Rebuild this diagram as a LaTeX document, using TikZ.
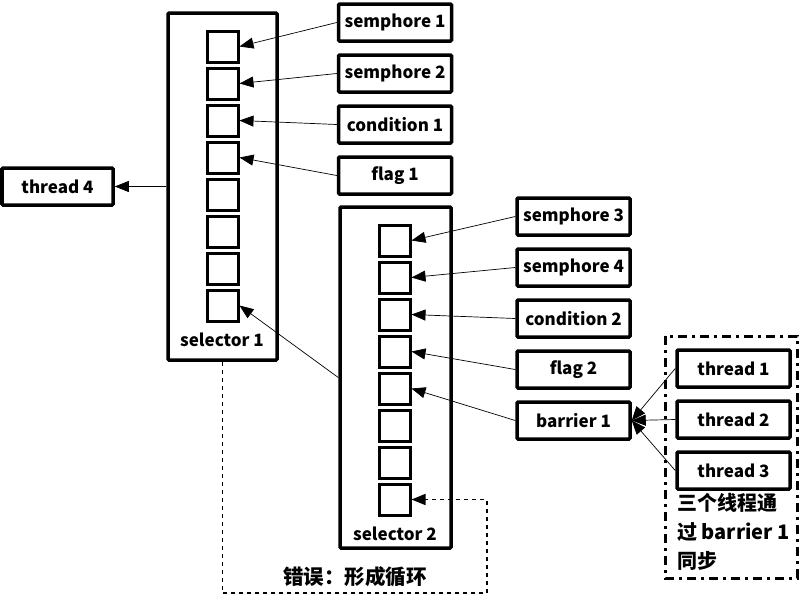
\documentclass[tikz,border=0pt]{standalone}
\usepackage{fontspec}
\setmainfont{Noto Sans CJK SC}
\usetikzlibrary{positioning,arrows.meta}

\begin{document}
\begin{tikzpicture}[x=1pt,y=-1pt,font=\bfseries\fontsize{17}{20}\selectfont,
    box/.style={draw,line width=3.5pt,rounded corners=1pt,minimum width=113pt,minimum height=37pt,inner sep=0pt},
    slot/.style={draw,line width=3pt,minimum size=31pt,inner sep=0pt},
    selbox/.style={draw,line width=3.5pt,rounded corners=1pt,inner sep=0pt},
    link/.style={line width=0.7pt,-{Triangle[length=14pt,width=11pt]}},
    cycle/.style={line width=1.5pt,dash pattern=on 4pt off 4pt,-{Triangle[length=14pt,width=11pt]}}]
    \useasboundingbox (0,0) rectangle (800,600);
    % selector 1
    \node[selbox,minimum width=109pt,minimum height=347pt] (sel1) at (222.5,186.5) {};
    \node (lab1) at (222,340) {selector 1};
    \foreach \i in {1,...,8}
        \node[slot] (s1-\i) at (222.5,{46.5+37*(\i-1)}) {};
    \foreach \n/\t [count=\i] in {sem1/semphore 1,sem2/semphore 2,cond1/condition 1,flag1/flag 1}{
        \node[box] (\n) at (395,{22.5+51*(\i-1)}) {\t};
        \draw[link] (\n.west) -- (s1-\i.east);
    }
    \node[box,minimum width=111pt] (t4) at (57.5,186.5) {thread 4};
    \draw[link] (sel1.west) -- (t4.east);
    % selector 2
    \node[selbox,minimum width=111pt,minimum height=341pt] (sel2) at (395.5,377.5) {};
    \node (lab2) at (395,534) {selector 2};
    \foreach \i in {1,...,8}
        \node[slot] (s2-\i) at (394.5,{240.5+37*(\i-1)}) {};
    \foreach \n/\t [count=\i] in {sem3/semphore 3,sem4/semphore 4,cond2/condition 2,flag2/flag 2,bar1/barrier 1}{
        \node[box] (\n) at (573.5,{216.5+51*(\i-1)}) {\t};
        \draw[link] (\n.west) -- (s2-\i.east);
    }
    \draw[link] (sel2.west) -- (s1-8.east);
    % loop
    \coordinate (lp) at (487,593);
    \draw[cycle] (sel1.south) |- (lp) |- (s2-8.east);
    \node[font=\bfseries\fontsize{20.5}{24}\selectfont] (err) at (355,577) {错误：形成循环};
    % threads
    \draw[line width=3pt,dash pattern=on 9pt off 5pt on 3pt off 5pt] (665,336) rectangle (797,578);
    \foreach \i in {1,2,3}{
        \node[box] (t\i) at (733.5,{368.5+51*(\i-1)}) {thread \i};
        \draw[link] (t\i.west) -- (bar1.east);
    }
    \node[align=left,anchor=north west,inner sep=0pt,font=\bfseries\fontsize{20}{29}\selectfont] (note) at (677,493) {三个线程通\\过 barrier 1\\同步};
\end{tikzpicture}
\end{document}
